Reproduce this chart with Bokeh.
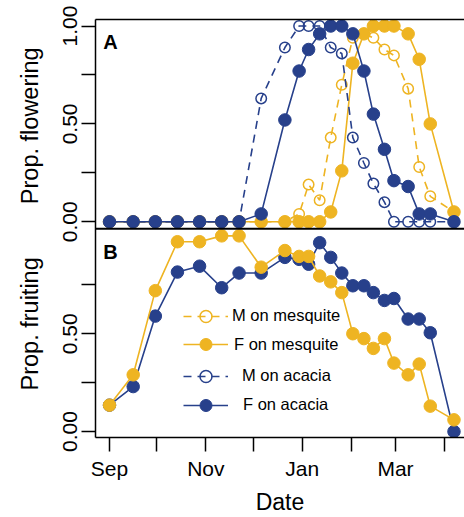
from math import pi
from bokeh.plotting import figure
from bokeh.layouts import row
from bokeh.models import (ColumnDataSource, FixedTicker, LinearAxis, Range1d, Span,
                          Label, Legend, LegendItem)
from bokeh.core.properties import value
from bokeh.transform import dodge
from bokeh.embed import file_html
from bokeh.resources import INLINE

# ---------------- data ----------------
# survey dates, in days since 1 September
survey_day = [0, 15, 29, 43, 57, 71, 82, 96, 111, 120, 126, 133, 140, 147,
              154, 161, 167, 174, 180, 189, 196, 203, 218]

# Panel A: proportion flowering
flower_m_mesquite = [0, 0, 0, 0, 0, 0, 0, 0, 0, 0.04, 0.19, 0.11, 0.43, 0.70,
                     0.94, 0.96, 0.94, 0.88, 0.85, 0.68, 0.28, 0.13, 0.05]
flower_f_mesquite = [0, 0, 0, 0, 0, 0, 0, 0, 0, 0, 0, 0, 0.05, 0.26,
                     0.81, 0.96, 1.0, 1.0, 1.0, 0.96, 0.83, 0.50, 0.05]
flower_m_acacia = [0, 0, 0, 0, 0, 0, 0, 0.63, 0.89, 1.0, 1.0, 1.0, 0.89, 0.86,
                   0.43, 0.30, 0.195, 0.10, 0.0, 0, 0, 0, 0]
flower_f_acacia = [0, 0, 0, 0, 0, 0, 0, 0.04, 0.52, 0.77, 0.88, 0.96, 1.0, 1.0,
                   0.96, 0.77, 0.55, 0.37, 0.21, 0.18, 0.04, 0.04, 0]

# Panel B: proportion fruiting
fruit_f_mesquite = [0.135, 0.29, 0.72, 0.97, 0.97, 1.0, 1.0, 0.84, 0.925, 0.895,
                    0.895, 0.795, 0.765, 0.71, 0.50, 0.475, 0.425, 0.475, 0.35,
                    0.29, 0.345, 0.13, 0.06]
fruit_f_acacia = [0.135, 0.23, 0.59, 0.815, 0.845, 0.735, 0.81, 0.81, 0.89, 0.88,
                  0.855, 0.965, 0.89, 0.81, 0.745, 0.745, 0.71, 0.67, 0.68,
                  0.575, 0.575, 0.505, 0.0]

# month axis
month_tick_days = [0, 30, 61, 91, 122, 153, 181, 212]
month_tick_labels = ["Sep", "", "Nov", "", "Jan", "", "Mar", ""]

# proportion axis (same for both panels)
prop_ticks = [0, 0.25, 0.5, 0.75, 1.0]
prop_labels = ["0.00", "", "0.50", "", "1.00"]

panel_titles = ["Prop. flowering", "Prop. fruiting"]
legend_labels = ["M on mesquite", "F on mesquite", "M on acacia", "F on acacia"]

# ---------------- layout constants ----------------
YELLOW = "#EEB422"
BLUE = "#27408B"
FONT = "Liberation Sans"
PANEL_A_OFFSET = 1.0721      # vertical offset of the flowering panel
DIVIDER = 1.0368             # boundary between the two panels
TITLE_W = 50                 # width of the strip holding the y titles

src = ColumnDataSource(dict(day=survey_day,
                            fmm=flower_m_mesquite, ffm=flower_f_mesquite,
                            fma=flower_m_acacia, ffa=flower_f_acacia,
                            rfm=fruit_f_mesquite, rfa=fruit_f_acacia))

yr = Range1d(-0.0302, 2.1054)

p = figure(width=464 - TITLE_W, height=517,
           x_range=Range1d(-8.86, 224.66), y_range=yr,
           output_backend="svg", toolbar_location=None,
           min_border_left=95 - TITLE_W, min_border_right=0, min_border_top=19,
           min_border_bottom=74)
p.grid.visible = False
p.outline_line_color = None
p.background_fill_color = "white"

DASH = "8 6"
LW = 1.6

def series(col, color, filled, dashed, offset):
    y = dodge(col, offset) if offset else col
    ln = p.line("day", y, source=src, line_color=color, line_width=LW,
                line_dash=DASH if dashed else "solid")
    if filled:
        sc = p.scatter("day", y, source=src, marker="circle", size=12.5,
                       fill_color=color, line_color=color, line_width=1)
    else:
        sc = p.scatter("day", y, source=src, marker="circle", size=10.5,
                       fill_color=None, line_color=color, line_width=1.5)
    return ln, sc

# panel A
r_mm = series("fmm", YELLOW, False, True, PANEL_A_OFFSET)
r_fm = series("ffm", YELLOW, True, False, PANEL_A_OFFSET)
r_ma = series("fma", BLUE, False, True, PANEL_A_OFFSET)
r_fa = series("ffa", BLUE, True, False, PANEL_A_OFFSET)
# panel B
series("rfa", BLUE, True, False, 0)
series("rfm", YELLOW, True, False, 0)

# x axis
xa = p.xaxis[0]
xa.ticker = FixedTicker(ticks=month_tick_days)
xa.major_label_overrides = dict(zip(month_tick_days, month_tick_labels))
xa.axis_label = "Date"
xa.axis_label_text_font = FONT
xa.axis_label_text_font_size = "23px"
xa.axis_label_text_font_style = "normal"
xa.axis_label_text_color = "black"
xa.major_label_standoff = 5
xa.axis_label_standoff = 6

# y axis: ticks for both panels
y_ticks = [t for t in prop_ticks[:-1]] + [PANEL_A_OFFSET + t for t in prop_ticks]
y_labels = prop_labels[:-1] + prop_labels
ya = p.yaxis[0]
ya.ticker = FixedTicker(ticks=y_ticks)
ya.major_label_overrides = dict(zip(y_ticks, y_labels))
ya.major_label_orientation = "vertical"
ya.major_label_standoff = 4

for ax in (xa, ya):
    ax.axis_line_width = 1.5
    ax.axis_line_color = "black"
    ax.major_tick_line_width = 1.5
    ax.major_tick_line_color = "black"
    ax.major_tick_out = 14
    ax.major_tick_in = 0
    ax.minor_tick_out = 0
    ax.minor_tick_in = 0
    ax.major_label_text_font = FONT
    ax.major_label_text_font_size = "21px"
    ax.major_label_text_color = "black"

top = LinearAxis(ticker=FixedTicker(ticks=[]), axis_line_width=1.5,
                 axis_line_color="black", major_tick_out=0, major_tick_in=0,
                 minor_tick_out=0, minor_tick_in=0, major_label_standoff=0)
p.add_layout(top, "above")

p.add_layout(Span(location=DIVIDER, dimension="width", line_color="black",
                  line_width=2))

# panel letters
for letter, ypos in (("A", PANEL_A_OFFSET + 0.916), ("B", 0.916)):
    p.add_layout(Label(x=-4, y=ypos, text=letter, text_font=FONT,
                       text_font_size="20px", text_font_style="bold",
                       text_color="black", text_align="left",
                       text_baseline="alphabetic"))

# legend: one entry per Legend so each label can be centred like the original
legend_renderers = [r_mm, r_fm, r_ma, r_fa]
legend_y = [106.4, 78, 46.4, 17.4]          # px above the frame bottom
legend_standoff = [4, 6, 14, 15]
for lab, rends, ly, so in zip(legend_labels, legend_renderers, legend_y,
                              legend_standoff):
    lg = Legend(items=[LegendItem(label=lab, renderers=list(rends))],
                location=(88, ly), glyph_width=45, glyph_height=30, spacing=0,
                padding=0, margin=0, label_standoff=so,
                border_line_color=None, background_fill_alpha=0,
                label_text_font=FONT, label_text_font_size="16.5px",
                label_text_color="black")
    p.add_layout(lg)

# strip at the left holding the two panel y titles (shares the y scale)
t = figure(width=TITLE_W, height=517, x_range=Range1d(0, TITLE_W), y_range=yr,
           output_backend="svg", toolbar_location=None,
           x_axis_location=None, y_axis_location=None,
           min_border_left=0, min_border_right=0, min_border_top=19,
           min_border_bottom=74)
t.grid.visible = False
t.outline_line_color = None
t.text(x=[29.5, 29.5], y=[1.5625, 0.5504], text=panel_titles, angle=pi / 2,
       text_align="center", text_baseline="middle", text_font=value(FONT),
       text_font_size="23.5px", text_color="black")

open("out.html", "w").write(file_html(row(t, p), INLINE))
